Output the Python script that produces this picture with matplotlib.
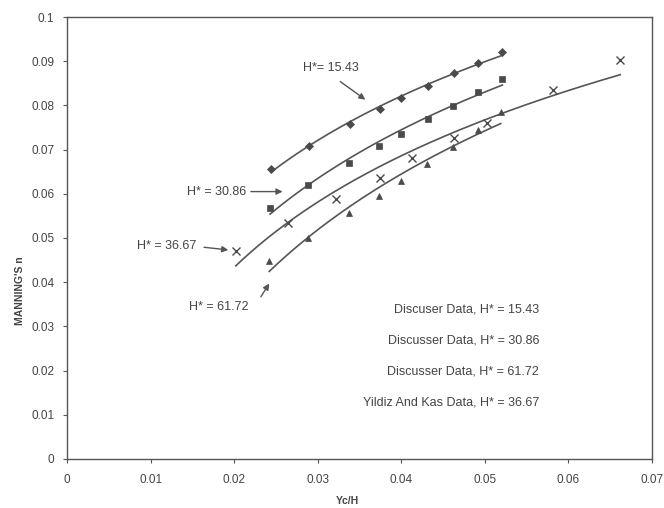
import numpy as np
import matplotlib
matplotlib.use("Agg")
import matplotlib.pyplot as plt

plt.rcParams['font.family'] = ['Liberation Sans', 'DejaVu Sans']

# ---- data ----
x_1543 = [0.0244, 0.0289, 0.0339, 0.0374, 0.0400, 0.0432, 0.0463, 0.0492, 0.0521]
n_1543 = [0.0656, 0.0709, 0.0757, 0.0792, 0.0817, 0.0845, 0.0873, 0.0897, 0.0920]

x_3086 = [0.0243, 0.0288, 0.0337, 0.0373, 0.0400, 0.0432, 0.0462, 0.0492, 0.0521]
n_3086 = [0.0567, 0.0620, 0.0670, 0.0709, 0.0735, 0.0769, 0.0799, 0.0831, 0.0860]

x_6172 = [0.0242, 0.0288, 0.0337, 0.0373, 0.0400, 0.0431, 0.0462, 0.0492, 0.0519]
n_6172 = [0.0448, 0.0499, 0.0557, 0.0596, 0.0629, 0.0667, 0.0707, 0.0744, 0.0786]

x_3667 = [0.0202, 0.0264, 0.0322, 0.0374, 0.0413, 0.0463, 0.0502, 0.0582, 0.0662]
n_3667 = [0.0471, 0.0535, 0.0588, 0.0636, 0.0682, 0.0727, 0.0761, 0.0835, 0.0903]

legend_labels = ["Discuser Data, H* = 15.43",
                 "Discusser Data, H* = 30.86",
                 "Discusser Data, H* = 61.72",
                 "Yildiz And Kas Data, H* = 36.67"]

x_ticks = [0, 0.01, 0.02, 0.03, 0.04, 0.05, 0.06, 0.07]
x_tick_labels = ["0", "0.01", "0.02", "0.03", "0.04", "0.05", "0.06", "0.07"]
y_ticks = [0, 0.01, 0.02, 0.03, 0.04, 0.05, 0.06, 0.07, 0.08, 0.09, 0.1]
y_tick_labels = ["0", "0.01", "0.02", "0.03", "0.04", "0.05", "0.06", "0.07", "0.08", "0.09", "0.1"]

LINE = "#555555"
MARK = "#4a4a4a"
TXT = "#444444"

fig = plt.figure(figsize=(6.64, 5.08), dpi=100)
ax = fig.add_axes([0.1009, 0.0965, 0.8810, 0.870])


def trend(xs, ys):
    xs = np.asarray(xs)
    ys = np.asarray(ys)
    a, b = np.polyfit(np.log(xs), ys, 1)
    xx = np.linspace(xs.min(), xs.max(), 200)
    return xx, a * np.log(xx) + b


for xs, ys, mk, ms in [(x_1543, n_1543, 'D', 4),
                       (x_3086, n_3086, 's', 4.5),
                       (x_6172, n_6172, '^', 5),
                       (x_3667, n_3667, 'x', 6)]:
    xx, yy = trend(xs, ys)
    ax.plot(xx, yy, color=LINE, lw=1.2, zorder=2)
    ax.plot(xs, ys, linestyle='none', marker=mk, markersize=ms,
            color=MARK, markeredgewidth=1.0 if mk == 'x' else 0.5, zorder=3)

ax.set_xlim(0, 0.07)
ax.set_ylim(0, 0.1)
ax.set_xticks(x_ticks)
ax.set_xticklabels(x_tick_labels)
ax.set_yticks(y_ticks)
ax.set_yticklabels(y_tick_labels)
ax.tick_params(axis='both', direction='out', length=3, width=0.8,
               color=LINE, labelcolor=TXT, labelsize=8.5)
ax.tick_params(axis='x', pad=8)
ax.tick_params(axis='y', pad=6)
for s in ax.spines.values():
    s.set_color("#555555")
    s.set_linewidth(1.0)

ax.set_xlabel("Yc/H", fontsize=7.5, fontweight='bold', color=TXT)
ax.set_ylabel("MANNING'S n", fontsize=7.5, fontweight='bold', color=TXT)
ax.xaxis.set_label_coords(0.48, -0.083)
ax.yaxis.set_label_coords(-0.072, 0.38)

arrow = dict(arrowstyle='-|>', color=LINE, lw=1.0, mutation_scale=9,
             shrinkA=0, shrinkB=0)
FS = 9
ax.annotate("", xy=(0.0357, 0.0813), xytext=(0.0327, 0.0854), arrowprops=arrow)
ax.text(0.0282, 0.0885, "H*= 15.43", fontsize=FS, color=TXT, ha='left', va='center')
ax.annotate("", xy=(0.0258, 0.0605), xytext=(0.0220, 0.0605), arrowprops=arrow)
ax.text(0.0214, 0.0605, "H* = 30.86", fontsize=FS, color=TXT, ha='right', va='center')
ax.annotate("", xy=(0.0193, 0.0473), xytext=(0.0164, 0.0479), arrowprops=arrow)
ax.text(0.0155, 0.0482, "H* = 36.67", fontsize=FS, color=TXT, ha='right', va='center')
ax.annotate("", xy=(0.0242, 0.0397), xytext=(0.0232, 0.0367), arrowprops=arrow)
ax.text(0.0182, 0.0345, "H* = 61.72", fontsize=FS, color=TXT, ha='center', va='center')

for i, lab in enumerate(legend_labels):
    ax.text(0.0565, 0.0338 - i * 0.0070, lab, fontsize=FS, color=TXT,
            ha='right', va='center')

fig.savefig("out.png", dpi=100, facecolor='white')
